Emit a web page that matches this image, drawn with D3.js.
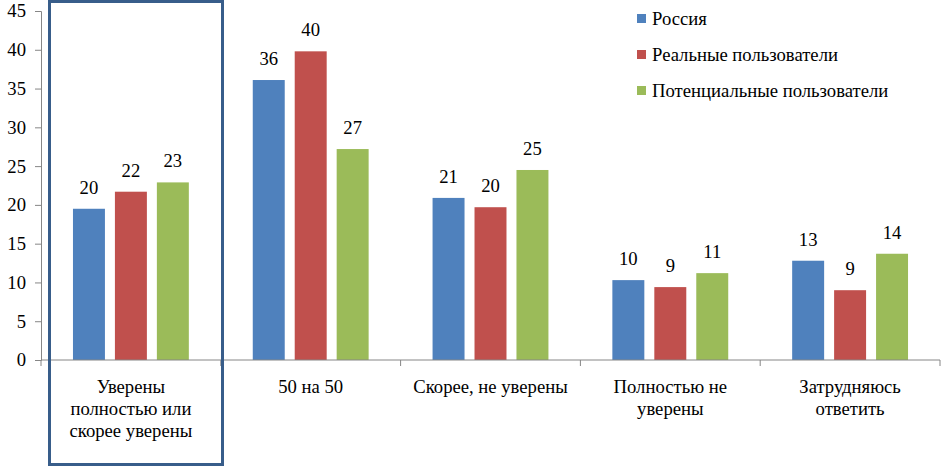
<!DOCTYPE html>
<html><head><meta charset="utf-8">
<script src="https://cdn.jsdelivr.net/npm/d3@7"></script>
<style>body{margin:0;background:#fff}svg{display:block}</style>
</head><body>
<script>
const categories = [
  ["Уверены","полностью или","скорее уверены"],
  ["50 на 50"],
  ["Скорее, не уверены"],
  ["Полностью не","уверены"],
  ["Затрудняюсь","ответить"]
];
const seriesNames = ["Россия","Реальные пользователи","Потенциальные пользователи"];
const russia    = [19.5, 36.1, 20.9, 10.3, 12.8];
const real      = [21.7, 39.8, 19.7, 9.4, 9.0];
const potential = [22.9, 27.2, 24.5, 11.2, 13.7];
const russiaLabels    = [20, 36, 21, 10, 13];
const realLabels      = [22, 40, 20, 9, 9];
const potentialLabels = [23, 27, 25, 11, 14];
const yTicks = [0,5,10,15,20,25,30,35,40,45];
const colors = ["#4F81BD","#C0504D","#9BBB59"];

const series = [
  {name: seriesNames[0], values: russia, labels: russiaLabels},
  {name: seriesNames[1], values: real, labels: realLabels},
  {name: seriesNames[2], values: potential, labels: potentialLabels}
];

const W = 944, H = 475;
const FONT = "'Liberation Serif', 'Times New Roman', serif";
const fs = 18.67;
const svg = d3.select("body").append("svg").attr("width", W).attr("height", H);

function styleText(sel){
  return sel.attr("font-size", fs).attr("fill", "#000")
    .style("font-family", FONT, "important");
}

const x0 = d3.scaleBand().domain(d3.range(categories.length)).range([41, 940]).padding(0);
const bw = x0.bandwidth();
const x1 = d3.scaleBand().domain(d3.range(series.length))
  .range([bw*32/180, bw*148/180]).paddingInner(0.238).paddingOuter(0);
const y = d3.scaleLinear().domain([0,45]).range([360, 11]);

// bars
const groups = svg.append("g").selectAll("g").data(categories).join("g")
  .attr("transform", (d,i) => `translate(${x0(i)},0)`);
groups.each(function(c, ci){
  const g = d3.select(this);
  series.forEach((s, si) => {
    g.append("rect")
      .attr("x", x1(si)).attr("width", x1.bandwidth())
      .attr("y", y(s.values[ci])).attr("height", y(0) - y(s.values[ci]))
      .attr("fill", colors[si]);
    styleText(g.append("text")
      .attr("x", x1(si) + x1.bandwidth()/2)
      .attr("y", y(s.values[ci]) - 15)
      .attr("text-anchor", "middle"))
      .text(s.labels[ci]);
  });
});

// y axis
const yAxis = svg.append("g").attr("transform", "translate(41,0)")
  .call(d3.axisLeft(y).tickValues(yTicks).tickSize(6).tickPadding(9));
yAxis.attr("font-family", null).attr("font-size", null);
yAxis.select(".domain").attr("stroke", "#868686");
yAxis.selectAll(".tick line").attr("stroke", "#868686");
styleText(yAxis.selectAll(".tick text"));

// x axis
const xAxisG = svg.append("g");
xAxisG.append("line").attr("x1", 41).attr("x2", 940).attr("y1", y(0)).attr("y2", y(0))
  .attr("stroke", "#868686");
const bounds = d3.range(categories.length + 1).map(i => i < categories.length ? x0(i) : x0(i-1) + bw);
xAxisG.selectAll("line.tk").data(bounds).join("line").attr("class","tk")
  .attr("x1", d => d).attr("x2", d => d).attr("y1", y(0)).attr("y2", y(0) + 6)
  .attr("stroke", "#868686");
const catLabels = styleText(svg.append("g").selectAll("text").data(categories).join("text")
  .attr("text-anchor", "middle")
  .attr("x", (d,i) => x0(i) + bw/2));
catLabels.each(function(lines, i){
  d3.select(this).selectAll("tspan").data(lines).join("tspan")
    .attr("x", x0(i) + bw/2).attr("y", (l, li) => 393 + li*22)
    .style("font-family", FONT, "important").text(l => l);
});

// legend
const leg = svg.append("g").selectAll("g").data(series).join("g")
  .attr("transform", (d,i) => `translate(637, ${14 + i*36})`);
leg.append("rect").attr("width", 9).attr("height", 9).attr("fill", (d,i) => colors[i]);
styleText(leg.append("text").attr("x", 15).attr("y", 11))
  .text(d => d.name);

// highlight box
svg.append("rect").attr("x", 49.5).attr("y", 1.5).attr("width", 173).attr("height", 463)
  .attr("fill", "none").attr("stroke", "#385D8A").attr("stroke-width", 3);
</script>
</body></html>
